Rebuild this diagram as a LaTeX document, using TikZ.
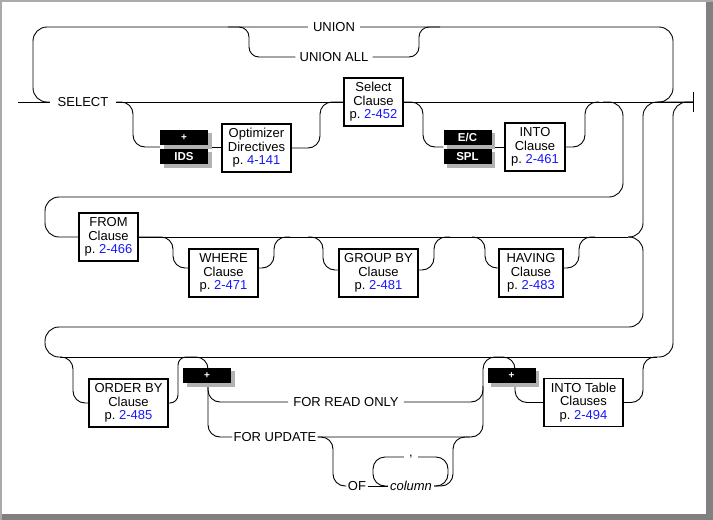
\documentclass[tikz,border=0pt]{standalone}
\usepackage{fontspec}
\setmainfont{Liberation Sans}
\usetikzlibrary{calc, shadows, backgrounds}
\definecolor{pagelink}{RGB}{24,24,255}
\definecolor{framegray}{RGB}{128,128,128}
\definecolor{edgegray}{RGB}{170,170,170}
\newcommand{\railfont}{\fontsize{13}{13.5}\selectfont}
\newcommand{\seepage}[1]{p.\ \textcolor{pagelink}{#1}}

\tikzset{
  rail/.style={draw=black, line width=0.9pt, rounded corners=12pt},
  wrap/.style={rail, rounded corners=14pt},
  kw/.style={font=\railfont, inner xsep=4pt, inner ysep=1pt},
  clause/.style={draw, line width=1.8pt, fill=white, align=center,
    font=\railfont, minimum height=48pt, inner sep=1pt},
  flag/.style={fill=black, text=white, font=\fontsize{11.5}{12}\selectfont\bfseries,
    minimum width=48pt, minimum height=15.5pt, inner sep=0pt,
    drop shadow={shadow xshift=3.5pt, shadow yshift=-3.5pt, fill=black!30, opacity=1}},
  plusflag/.style={flag, font=\fontsize{10}{10}\selectfont\bfseries},
}

\begin{document}
\begin{tikzpicture}[x=1pt, y=-1pt]
  % window frame
  \begin{pgfonlayer}{background}
    \fill[edgegray] (0,0) rectangle (713,520);
    \fill[framegray] (2,2) rectangle (713,520);
    \fill[white] (2,2) rectangle (706,514);
  \end{pgfonlayer}

  % keywords
  \node[kw, inner xsep=8pt] (select) at (83,102) {SELECT};
  \node[kw, inner xsep=5pt] (union) at (334,27) {UNION};
  \node[kw] (unionall) at (334,57) {UNION ALL};
  \node[kw, inner xsep=5pt] (forro) at (346,402) {FOR READ ONLY};
  \node[kw, inner xsep=1pt] (forupd) at (275,437) {FOR UPDATE};
  \node[kw, inner xsep=1.5pt] (of) at (357,486) {OF};
  \node[kw, inner xsep=2pt, font=\railfont\itshape] (col) at (411,486) {column};
  \node[kw, inner xsep=5pt] (comma) at (411,457) {,};

  % clause boxes
  \node[clause, minimum width=59pt] (selcl) at (373.5,102) {Select\\Clause\\\seepage{2-452}};
  \node[clause, minimum width=69pt] (opt) at (256.5,148) {Optimizer\\Directives\\\seepage{4-141}};
  \node[clause, minimum width=60pt] (into) at (535,147) {INTO\\Clause\\\seepage{2-461}};
  \node[clause, minimum width=59pt] (from) at (108.5,237) {FROM\\Clause\\\seepage{2-466}};
  \node[clause, minimum width=69pt] (where) at (223.5,273) {WHERE\\Clause\\\seepage{2-471}};
  \node[clause, minimum width=79pt] (groupby) at (378.5,273) {GROUP BY\\Clause\\\seepage{2-481}};
  \node[clause, minimum width=64pt] (having) at (531,273) {HAVING\\Clause\\\seepage{2-483}};
  \node[clause, minimum width=79pt] (orderby) at (128.5,403) {ORDER BY\\Clause\\\seepage{2-485}};
  \node[clause, minimum width=79pt] (intotab) at (583.5,402.5) {INTO Table\\Clauses\\\seepage{2-494}};

  % product flags
  \node[plusflag] (idsplus) at (184,137.5) {+};
  \node[flag] (ids) at (184,156.5) {IDS};
  \node[flag] (ecflag) at (467.5,137.5) {E/C};
  \node[flag] (splflag) at (467.5,156.5) {SPL};
  \node[plusflag] (plusfor) at (207,375.5) {+};
  \node[plusflag] (plusinto) at (511.5,375.5) {+};

  % junctions
  \coordinate (start) at (18,102);
  \coordinate (stop) at (693,102);
  \coordinate (unionL) at (228,27);
  \coordinate (unionR) at (440,27);
  \coordinate (unionback) at (657,102);
  \coordinate (intoback) at (599,102);
  \coordinate (wrapone) at (603,102);
  \coordinate (idsL) at ($(idsplus.south west)!.5!(ids.north west)$);
  \coordinate (idsR) at ($(idsplus.south east)!.5!(ids.north east)$);
  \coordinate (ecL) at ($(ecflag.south west)!.5!(splflag.north west)$);
  \coordinate (ecR) at ($(ecflag.south east)!.5!(splflag.north east)$);
  \coordinate (whereback) at (290,237);
  \coordinate (groupfork) at (308,237);
  \coordinate (groupback) at (450,237);
  \coordinate (havingfork) at (472,237);
  \coordinate (havingback) at (595,237);
  \coordinate (rowtwoend) at (628,237);
  \coordinate (rowthree) at (60,357);
  \coordinate (rowthreeend) at (657,357);
  \coordinate (forfork) at (193,357);
  \coordinate (readfork) at (208,385);
  \coordinate (readback) at (483,386);
  \coordinate (intofork) at (500,357);
  \coordinate (ofback) at (470,437);

  \begin{pgfonlayer}{background}
    % first row
    \draw[rail] (start) -- (select);
    \draw[rail] (select) -- (selcl);
    \draw[rail] (selcl) -- (stop);
    \draw[line width=0.9pt] ($(stop)+(0,-10)$) -- ($(stop)+(0,10)$);
    % UNION loop
    \draw[wrap] (union.west) -- (33,27) -- (33,102) -- (select.west);
    \draw[wrap] (union.east) -- (673,27) -- (673,102) -- (unionback);
    \draw[rail, rounded corners=10pt] (unionL) -- (249,27) -- (249,57) -- (unionall.west);
    \draw[rail, rounded corners=10pt] (unionall.east) -- (419,57) -- (419,27) -- (unionR);
    % optimizer directives
    \draw[rail] (select.east) -- (133,102) |- (idsL);
    \draw[rail] (idsR) -- (idsR -| opt.west);
    \draw[rail] (opt.east) -| (320,102) -- (selcl.west);
    % INTO clause
    \draw[rail] (selcl.east) -- (423,102) |- (ecL);
    \draw[rail] (ecR) -- (ecR -| into.west);
    \draw[rail] (into.east) -| (585,102) -- (intoback);
    % second row
    \draw[wrap] (wrapone) -- (623,102) -- (623,197) -- (45,197) |- (from.west);
    \draw[rail] (from.east) -- (rowtwoend);
    \draw[rail] (from.east) -- (173,237) |- ($(where.west)+(0,-5)$);
    \draw[rail] ($(where.east)+(0,-5)$) -| (274,237) -- (whereback);
    \draw[rail] (groupfork) -- (323,237) |- ($(groupby.west)+(0,-3)$);
    \draw[rail] ($(groupby.east)+(0,-3)$) -| (434,237) -- (groupback);
    \draw[rail] (havingfork) -- (485,237) |- ($(having.west)+(0,-5)$);
    \draw[rail] ($(having.east)+(0,-5)$) -| (579,237) -- (havingback);
    \draw[wrap] (rowtwoend) -- (643,237) -- (643,102) -- (stop);
    \draw[wrap] (rowtwoend) -- (643,237) -- (643,327) -- (45,327) |- (rowthree);
    % third row
    \draw[rail] (rowthree) -- (rowthreeend);
    \draw[rail] (rowthree) -- (73,357) |- (orderby.west);
    \draw[rail, rounded corners=8pt] (orderby.east) -| (178,357) -- (forfork);
    \draw[rail] (forfork) -- (208,357) |- (forupd.west);
    \draw[rail] (readfork) |- (forro.west);
    \draw[rail] (forro.east) -| (readback);
    \draw[rail] (forupd.east) -| (483,357) -- (intofork);
    \draw[rail] (forupd.east) -- (333,437) |- (of.west);
    \draw[rail] (of) -- (col);
    \draw[rail] (col.east) -- (453,486) |- (ofback);
    \draw[rail] (col.east) -- (448,486) |- (comma.east);
    \draw[rail] (comma.west) -- (373,457) |- (col.west);
    \draw[rail] (intofork) -- (515,357) |- (intotab.west);
    \draw[rail] (intotab.east) -| (643,357) -- (rowthreeend);
    \draw[wrap] (rowthreeend) -- (673,357) -- (673,102) -- (stop);
  \end{pgfonlayer}
\end{tikzpicture}
\end{document}
